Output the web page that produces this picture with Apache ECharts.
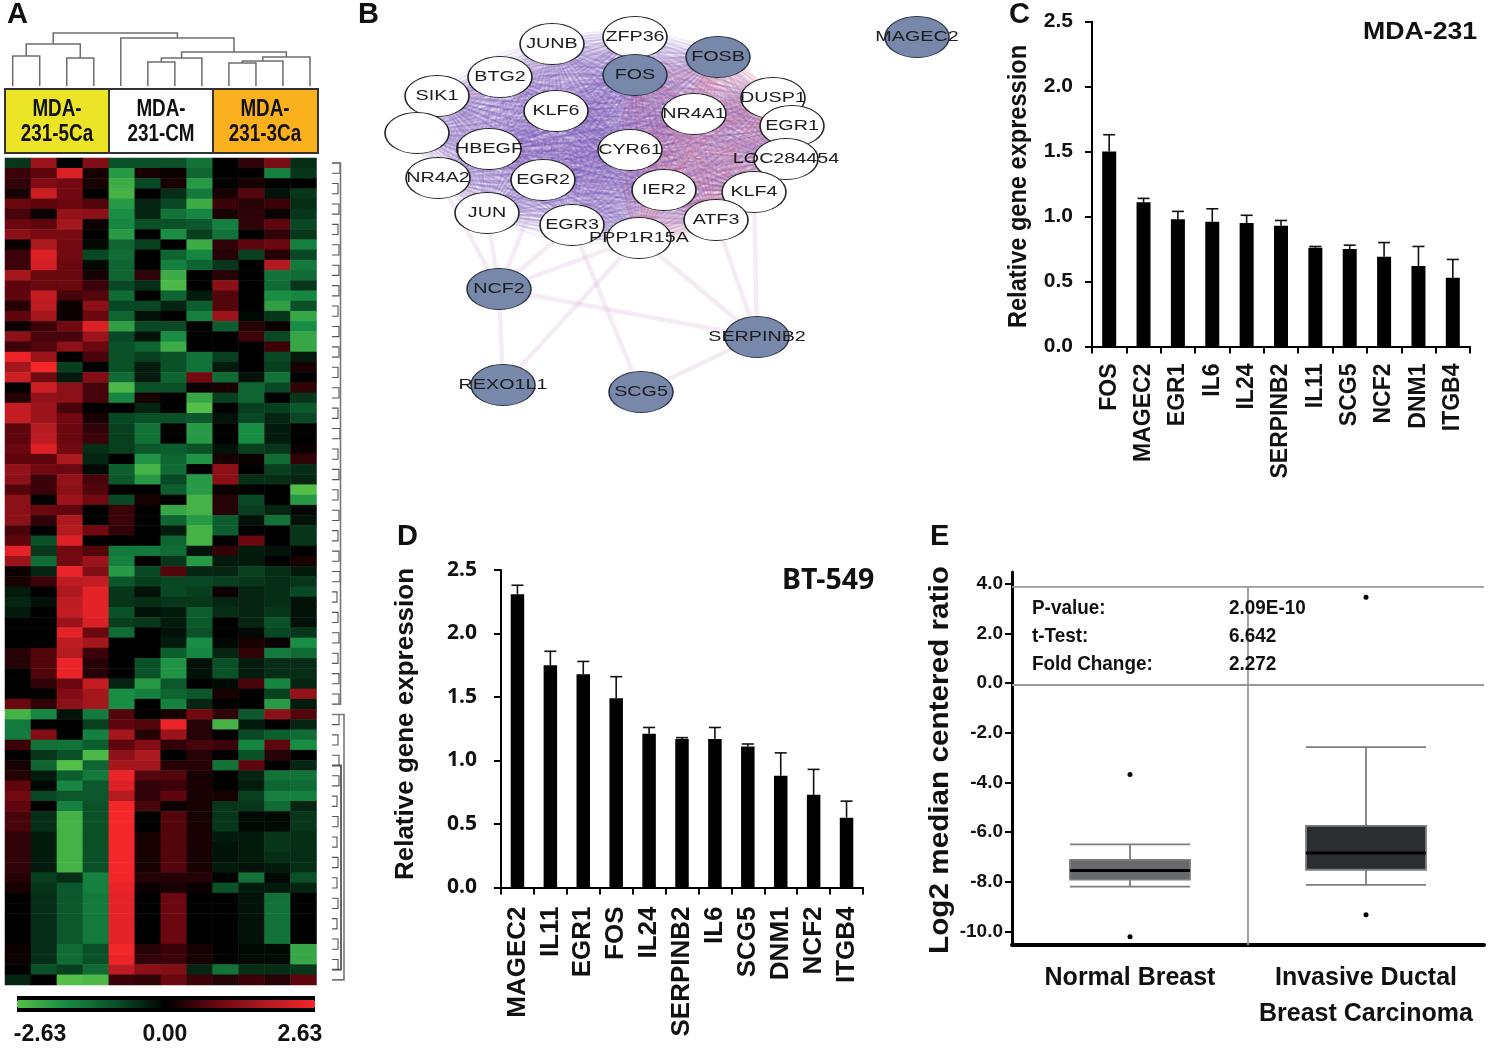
<!DOCTYPE html>
<html><head><meta charset="utf-8"><style>html,body{margin:0;padding:0;background:#fff}#c{width:1492px;height:1049px}</style>
<script src="https://cdn.jsdelivr.net/npm/echarts@6/dist/echarts.min.js"></script></head><body><div id="c"></div>
<script>
// ---------- Panel A: heat map (rows top to bottom, 12 samples) ----------
const heatRows = [
[-0.6,1.5,0,1.2,-0.9,-0.9,-0.9,-1.4,0,0.4,1.1,-0.5],
[0.5,0.8,2.3,0.2,-2.0,0.2,0.1,-1.2,0,0,-1.6,-0.6],
[0.4,1.2,1.0,0.2,-2.3,-0.8,0.2,-2.0,0,0.2,0,0],
[0.2,2.1,1.0,0,-2.4,0,-0.5,-1.5,0.2,0.7,-0.2,-0.6],
[0.9,0.8,0.9,0.7,-2.0,-0.4,-0.8,-2.3,0.5,0.3,0.5,-0.5],
[0.6,0.1,1.4,1.3,-1.8,-0.4,-1.4,-1.7,0.2,0.4,0.1,-0.6],
[0.9,0.8,1.6,0.1,-1.7,-0.9,-0.9,-1.0,-1.6,0.4,0.8,-0.8],
[1.3,1.1,1.1,0,-2.0,0,-1.8,-0.7,-1.4,0,0.4,-0.6],
[0.1,1.7,1.0,-0.1,-1.2,-0.7,0,-2.3,0.4,0.8,0.9,-1.6],
[0.5,2.3,1.0,-0.8,-1.3,0,-1.2,-1.7,0.3,-0.7,0.3,-0.8],
[0.5,2.2,0.9,-0.1,-1.2,0,-1.6,-1.2,-0.6,0,1.8,-1.5],
[1.6,0.9,0.9,0.2,-1.2,0.4,-2.3,0,0.3,0,-1.4,-1.3],
[0.8,0.9,0.9,0.5,-0.8,-0.5,-2.5,0,1.3,0,-1.3,-0.6],
[0.8,2.0,0.6,0.7,-1.3,0,-1.2,-0.3,0.7,0,-1.8,-1.7],
[0.3,1.9,0.1,1.3,-0.8,-0.8,-0.4,-1.1,0.7,0,-2.1,-0.9],
[0.8,1.6,0.1,0.9,-1.2,-0.2,0,-1.6,1.5,-0.1,-0.6,-2.2],
[0.1,0.5,1.0,2.3,-2.1,-0.8,-0.8,0,-1.1,0.3,0.1,-1.8],
[1.3,0.6,0.6,1.5,-0.8,-0.2,-1.8,0,0,0.5,-0.8,-2.2],
[0.5,0.7,1.3,0.9,-0.9,-1.2,-2.3,0,0,0,0.5,-2.2],
[2.5,1.5,0,0.6,-0.9,-0.7,-0.9,-1.4,-0.7,0,-0.8,-0.3],
[1.6,2.6,-0.7,0,-0.9,-0.3,-0.9,-1.4,-0.3,0,-0.7,0.2],
[2.1,1.0,-0.3,1.2,-1.3,-0.3,-1.2,1.0,-1.3,-0.2,-1.4,0],
[0,2.1,1.3,0.6,-2.5,-0.9,-0.9,0.1,0.2,-1.2,-0.8,0.4],
[0.3,1.4,1.3,0.6,-1.7,0.2,0,-2.2,-0.7,-1.2,0,-0.6],
[2.0,1.5,0.6,0,0,-0.4,0,-2.6,0,-0.7,-0.7,-1.0],
[2.0,1.5,1.0,0.2,-0.8,-0.9,-0.9,-1.0,-0.2,-0.8,-0.4,-0.8],
[0.8,1.8,0.9,0.4,-0.7,-1.4,0,-2.0,0,-1.8,-0.3,0],
[0.8,1.9,0.9,0.5,-0.7,-1.4,0,-2.0,0,-1.8,-0.3,0],
[0.9,2.3,1.0,-0.5,-0.7,-1.0,-1.1,-0.9,-0.2,-0.7,-0.6,0.1],
[0.8,0.8,1.7,-0.4,0,-1.9,-1.2,-1.9,0.2,0.1,-1.3,0.4],
[1.4,1.0,0.9,-0.1,-1.1,-2.4,-1.3,0,1.3,0,-0.7,-0.5],
[1.3,0.5,1.4,0.6,-1.0,-2.0,-0.8,-2.0,1.3,-0.5,-0.5,-0.4],
[0.7,0.5,1.3,0.7,0,0,-1.1,-2.0,0.1,0,0,-2.6],
[1.3,0,1.5,1.0,-0.8,0.2,0,-2.4,0.3,-0.8,0,-2.0],
[1.3,0.9,0.8,0,0.5,0,-2.2,-2.4,0.3,-0.7,-0.4,-0.1],
[1.3,0.4,1.7,0,0.5,0,-1.2,-2.0,-1.1,-0.2,-1.4,-0.2],
[0.6,0,1.8,1.0,0.4,0,-0.3,-2.4,-1.1,0,0,-0.6],
[0.8,-0.9,2.3,0,0,0,-1.2,-2.4,0,0.9,0,-0.6],
[2.4,-0.6,1.0,0.7,-1.5,-1.5,-1.3,-0.2,0.4,-0.3,-0.2,0],
[1.5,-1.3,1.0,1.5,-1.6,0,-0.6,-2.0,-0.3,-0.3,0,0.2],
[0.1,-0.4,2.5,1.2,-2.0,-0.8,0.7,-0.4,-0.4,-0.7,-0.5,-0.3],
[0.2,0.5,1.9,2.0,-1.0,-0.7,-0.8,-0.8,-0.7,-0.6,-0.5,-0.6],
[-0.3,0,1.7,2.4,-0.6,-0.2,-0.8,-0.7,0.1,-0.4,-0.5,-0.8],
[-0.4,-0.2,1.9,2.4,-0.6,-0.5,-0.6,-0.6,-0.4,-0.4,-0.5,-0.2],
[-0.3,0,2.0,2.4,-0.9,-0.2,-0.3,-1.1,-0.5,-0.4,-0.6,-0.2],
[0,0,1.5,2.3,-0.7,-0.6,-0.3,-1.0,0,-0.4,-0.9,-0.2],
[0,0,2.4,0.9,-1.3,0,-0.2,-0.9,0,-0.1,-0.8,-0.6],
[0,0,1.9,1.6,0,0,-0.3,-1.8,-0.1,0.2,0.1,-1.8],
[0.3,0.7,1.8,0.5,0,0,-1.1,-1.7,-0.4,0.4,-1.5,-1.3],
[0.3,0.7,2.5,0.3,0,-0.9,-1.9,-0.2,-0.9,-0.3,-0.5,-0.5],
[0,0.7,2.5,0.3,0,-0.9,-1.9,-0.2,-0.9,-0.3,-0.5,-0.5],
[0,0.4,0.9,2.0,-0.4,-2.0,-1.0,0,-0.1,0.6,-1.7,-0.4],
[0,0,1.2,1.6,-1.8,-1.6,-1.2,-1.0,0.2,0,-0.7,1.4],
[0.9,0.4,1.3,1.6,-1.8,0,-1.6,-0.4,0,0,-2.0,-0.3],
[-2.4,-1.7,-0.2,-1.5,0.7,0,0.2,1.0,0.4,-1.0,1.3,0.7],
[-1.5,0,0,-0.7,0.8,0.7,2.5,0.3,-2.4,-0.3,0,-0.4],
[-1.5,1.2,0,-1.6,1.6,0.3,1.5,0.3,0,-0.8,-1.1,-1.3],
[0.5,-1.4,-1.4,-1.1,0.8,1.2,0.4,0.6,0.5,-1.7,0.8,-1.8],
[0,-0.6,-0.9,-2.5,1.3,1.7,0,0.3,0,-0.9,0.3,0],
[0.2,-1.2,-2.6,-1.2,1.6,1.6,0.3,0.3,-1.4,0.8,0,-0.4],
[0.3,-0.3,-1.1,-1.5,2.5,0.7,0.7,0.2,0,-0.4,-1.4,-1.4],
[0.8,-0.1,-1.7,-1.0,2.3,0.4,0.5,0.2,0,-0.3,-1.2,-1.3],
[1.0,-0.8,-1.0,-1.0,1.8,0.4,0.8,0.2,0.2,-0.7,-1.6,-1.6],
[0.8,0,-1.6,-0.9,2.6,0.6,0.1,0.2,-0.6,-0.6,-1.3,-0.4],
[0.6,-0.5,-2.4,-0.9,2.6,0,0.7,0.2,-0.6,-0.1,-0.1,-0.6],
[0.6,-0.5,-2.4,-0.9,2.6,0,0.7,0.2,-0.6,-0.1,-0.1,-0.6],
[0.4,-0.3,-2.4,-0.9,2.6,0.2,0.7,0.2,-0.3,-0.3,-0.6,-0.5],
[0.4,-0.3,-2.4,-0.9,2.6,0.2,0.7,0.2,-0.2,-0.3,-0.6,-0.5],
[0.4,-0.3,-2.4,-0.9,2.6,0.2,0.7,0.2,-0.2,-0.3,-0.5,-0.5],
[0.4,-0.3,-2.4,-0.9,2.6,0.2,0.7,0.2,-0.3,-0.2,-0.3,-0.5],
[0.3,-0.7,-0.5,-1.6,2.6,0.3,0.3,0.3,0,-1.4,-0.1,-0.9],
[0.2,-0.6,-1.0,-1.6,2.5,0.1,0.2,0.1,-0.9,-0.3,-0.3,-0.4],
[0,-0.5,-1.0,-1.5,2.4,0,0.9,0,0,-0.2,-1.4,0],
[0,-0.5,-1.0,-1.5,2.4,0,0.9,0,0,-0.2,-1.4,0],
[0,-0.5,-1.0,-1.5,2.4,0,0.9,0,0,-0.2,-1.4,0],
[0,-0.5,-1.0,-1.5,2.4,0,0.9,0,0,-0.2,-1.4,0],
[0,-0.5,-1.0,-1.5,2.4,0,0.9,0,0,-0.2,-1.4,0],
[0.1,-0.5,-1.3,-0.9,2.6,0.3,0.5,0.2,0,-0.1,-0.1,-2.2],
[0.1,-0.5,-1.3,-0.9,2.5,0.4,0.5,0.2,0,-0.1,-0.1,-2.2],
[0,-0.9,-0.7,-1.3,1.9,1.3,1.2,-0.4,-1.4,-0.5,-0.5,-0.6],
[-0.4,0,-2.6,-2.5,0.5,0.4,0.9,0.5,0.3,0.5,0.3,0.8]
];
const heatScale = ['#55c048','#178a44','#0a4f27','#000000','#68060f','#b01a20','#f5262a'];

// sample dendrogram: each merge joins children A and B (index<12 = leaf) at height H
const mergeA = [0,2,12,5,15,8,17,18,16,4,14];
const mergeB = [1,3,13,6,7,9,10,11,19,20,21];
const mergeH = [30,28,42,24,28,23,25,29,34,48,53];

// gene dendrogram brackets [first row, last row, height]
const geneBrackets = [[0,1,8],[2,3,6],[4,5,7],[6,7,6],[8,9,7],[10,11,7],[12,13,7],[14,15,6],[16,17,7],[18,19,7],
[20,21,6],[22,23,7],[24,25,6],[26,27,8],[28,29,6],[30,31,7],[32,33,6],[34,35,7],[36,37,6],[38,39,7],
[40,41,8],[42,43,5],[44,45,6],[46,47,7],[48,49,6],[50,51,7],[52,53,7],
[54,55,7],[56,57,6],[58,59,7],[60,61,7],[62,63,5],[64,65,6],[66,67,5],[68,69,6],[70,71,5],[72,73,6],[74,75,5],[76,77,6],[78,79,6]];
const geneTrunks = [[0,53,8.5],[54,80,12]];
const geneTrunkInner = [[59,79,9]];

// ---------- Panel B: network ----------
const netNames = ['JUNB','ZFP36','BTG2','SIK1','','KLF6','NR4A1','DUSP1','EGR1','LOC284454','CYR61','HBEGF','NR4A2','EGR2','IER2','KLF4','JUN','EGR3','ATF3','PPP1R15A','FOS','FOSB','NCF2','SERPINB2','REXO1L1','SCG5','MAGEC2'];
const netX =     [552,635,500,437,417,556,694,773,792,786,630,489,438,543,664,754,487,572,716,639,635,718,499,757,503,641,917];
const netY =     [44,37,77,96,133,111,114,98,126,159,150,149,178,180,190,192,213,225,220,238,75,57,289,337,385,392,37];
const netBlue =  ['FOS','FOSB','NCF2','SERPINB2','REXO1L1','SCG5','MAGEC2'];
const coreSize = 22;  // first 22 names form the densely linked cluster
const netWarm = ['FOS','FOSB','NR4A1','DUSP1','CYR61','IER2','KLF4','ATF3','PPP1R15A','EGR1'];
const netOuter = [['NR4A2','NCF2'],['JUN','NCF2'],['EGR2','NCF2'],['EGR3','NCF2'],['PPP1R15A','NCF2'],['NCF2','SERPINB2'],['NCF2','REXO1L1'],['PPP1R15A','REXO1L1'],['EGR3','SCG5'],['SCG5','SERPINB2'],['PPP1R15A','SERPINB2'],['ATF3','SERPINB2'],['KLF4','SERPINB2']];
const netArcs = [['ZFP36','FOSB',-0.7],['FOSB','DUSP1',-0.35],['FOSB','EGR1',-0.4],['JUNB','SIK1',0.3],['NR4A2','JUN',0.3]];
const netBends = [0,0.07,-0.07,0.14,-0.14,0.2,-0.2];

// ---------- Panels C and D: bars ----------
const genesC = ['FOS','MAGEC2','EGR1','IL6','IL24','SERPINB2','IL11','SCG5','NCF2','DNM1','ITGB4'];
const meansC = [1.50,1.11,0.98,0.96,0.95,0.93,0.76,0.75,0.69,0.62,0.53];
const uppersC = [1.63,1.14,1.04,1.06,1.01,0.97,0.77,0.78,0.80,0.77,0.67];
const genesD = ['MAGEC2','IL11','EGR1','FOS','IL24','SERPINB2','IL6','SCG5','DNM1','NCF2','ITGB4'];
const meansD = [2.31,1.75,1.68,1.49,1.21,1.17,1.17,1.11,0.88,0.73,0.55];
const uppersD = [2.38,1.86,1.78,1.66,1.26,1.18,1.26,1.13,1.06,0.93,0.68];

// ---------- Panel E: box plot ----------
const boxGroups = ['Normal Breast','Invasive Ductal\nBreast Carcinoma'];
const boxStats = [[-8.2,-7.92,-7.55,-7.12,-6.5],[-8.13,-7.52,-6.85,-5.75,-2.58]];
const boxFill = ['#666869','#2b2e30'];
const boxOutliers = [[0,-3.68],[0,-10.22],[1,3.45],[1,-9.33]];
const boxTicks = [-10,-8,-6,-4,-2,0,2,4];
const boxGuides = [[0,3.87,2,3.87],[0,-0.08,2,-0.08],[1,3.87,1,-10.55]];
const statLabels = ['P-value:','t-Test:','Fold Change:'];
const statValues = ['2.09E-10','6.642','2.272'];

// ---------- helpers ----------
const SANS='"Liberation Sans",Arial,sans-serif', NOTO='"Noto Sans",sans-serif';
const heatData=[]; heatRows.forEach((r,y)=>r.forEach((v,x)=>heatData.push([x,y,v])));
const mergeX={}; const mergeHt={}; for(let i=0;i<12;i++){mergeX[i]=i;mergeHt[i]=0;}
const dendro=mergeA.map((a,i)=>{const b=mergeB[i],h=mergeH[i];const d=[mergeX[a],mergeHt[a],mergeX[b],mergeHt[b],h];mergeX[12+i]=(mergeX[a]+mergeX[b])/2;mergeHt[12+i]=h;return d;});
const idx=n=>netNames.indexOf(n);
const netNodes=netNames.map((n,i)=>{const blue=netBlue.includes(n);return {name:n||' ',value:[netX[i],netY[i]],itemStyle:{color:blue?'#7788aa':'#fff',borderColor:blue?'#2a3242':'#222',borderWidth:1.3}};});
const netLinks=[];
netBends.forEach(cv=>{for(let i=0;i<coreSize;i++)for(let j=i+1;j<coreSize;j++){
  const warm=netWarm.includes(netNames[i])&&netWarm.includes(netNames[j]);
  netLinks.push({source:i,target:j,lineStyle:{color:warm?'rgba(214,90,120,0.24)':'rgba(112,70,172,0.2)',width:warm?2:1.7,curveness:cv}});
}});
netOuter.forEach(p=>netLinks.push({source:idx(p[0]),target:idx(p[1]),lineStyle:{color:'rgba(196,150,204,0.38)',width:4.5,curveness:0}}));
netArcs.forEach(p=>netLinks.push({source:idx(p[0]),target:idx(p[1]),lineStyle:{color:'rgba(232,170,190,0.6)',width:3,curveness:p[2]}}));

function errSeries(gridIdx,upper,mean){return {type:'custom',xAxisIndex:gridIdx,yAxisIndex:gridIdx,z:1,
  data:mean.map((m,i)=>[i,m,upper[i]]),encode:{x:0,y:[1,2]},
  renderItem:(p,api)=>{const a=api.coord([api.value(0),api.value(1)]),b=api.coord([api.value(0),api.value(2)]);
    const st={stroke:'#111',lineWidth:1.6};return {type:'group',children:[
    {type:'line',shape:{x1:a[0],y1:a[1],x2:b[0],y2:b[1]},style:st},
    {type:'line',shape:{x1:b[0]-6,y1:b[1],x2:b[0]+6,y2:b[1]},style:st}]};}};}
const seg=(color,w)=>(p,api)=>{const a=api.coord([api.value(0),api.value(1)]),b=api.coord([api.value(2),api.value(3)]);
  return {type:'line',shape:{x1:a[0],y1:a[1],x2:b[0],y2:b[1]},style:{stroke:color,lineWidth:w}};};
const geneItem=(color,w)=>(p,api)=>{const a=api.value(0),b=api.value(1),h=api.value(2);
  const pts=[[0,a],[h,a],[h,b],[0,b]].map(q=>api.coord(q));
  return {type:'polyline',shape:{points:pts},style:{stroke:color,lineWidth:w,fill:null}};};
const txt=(text,x,y,font,extra,sx)=>({type:'text',silent:true,z:50,x,y,scaleX:sx||1,style:Object.assign({text,font,fill:'#111',textAlign:'left',textVerticalAlign:'middle'},extra||{})});
const rotTxt=(text,x,y,font,sx)=>({type:'text',silent:true,z:50,x,y,rotation:Math.PI/2,scaleX:sx||1,style:{text,font,fill:'#111',textAlign:'center',textVerticalAlign:'middle'}});
const bandRect=(x,w,color)=>({type:'rect',silent:true,z:10,shape:{x,y:89,width:w,height:64},style:{fill:color,stroke:'#333',lineWidth:2}});
const barX=(cats,size,margin)=>({type:'category',data:cats,axisLine:{lineStyle:{color:'#000',width:2}},axisTick:{show:true,length:7,lineStyle:{color:'#000',width:2}},axisLabel:{interval:0,rotate:90,margin,color:'#111',fontFamily:SANS,fontWeight:'bold',fontSize:size}});
const barY=(font,size,margin)=>({type:'value',min:0,max:2.5,interval:0.5,axisLine:{show:true,lineStyle:{color:'#000',width:2}},axisTick:{show:true,length:7,lineStyle:{color:'#000',width:2}},splitLine:{show:false},axisLabel:{margin,color:'#111',fontFamily:font,fontWeight:'bold',fontSize:size,formatter:v=>v.toFixed(1)}});

const option={
 animation:false,backgroundColor:'#fff',
 grid:[
  {left:5,top:158,width:311.5,height:827},      // 0 heat
  {left:12.7,top:26,width:297.3,height:60},     // 1 sample tree
  {left:332,top:158,width:14,height:827},       // 2 gene tree
  {left:360,top:0,width:620,height:430},        // 3 network
  {left:1092,top:21.7,width:378,height:324.8},  // 4 C
  {left:501,top:570,width:362,height:317.5},    // 5 D
  {left:1012,top:572,width:472,height:373}      // 6 E
 ],
 xAxis:[
  {gridIndex:0,type:'category',data:heatRows[0].map((_,i)=>i),show:false},
  {gridIndex:1,type:'value',min:0,max:11,show:false},
  {gridIndex:2,type:'value',min:0,max:14,show:false},
  {gridIndex:3,type:'value',min:360,max:980,show:false},
  Object.assign({gridIndex:4},barX(genesC,23,17)),
  Object.assign({gridIndex:5},barX(genesD,26,19)),
  {gridIndex:6,type:'category',data:boxGroups,axisLine:{onZero:false,lineStyle:{color:'#000',width:4}},axisTick:{show:false},axisLabel:{interval:0,margin:15,lineHeight:36,color:'#111',fontFamily:SANS,fontWeight:'bold',fontSize:25,verticalAlign:'top'}},
  {gridIndex:6,type:'value',min:0,max:2,show:false}
 ],
 yAxis:[
  {gridIndex:0,type:'category',inverse:true,data:heatRows.map((_,i)=>i),show:false},
  {gridIndex:1,type:'value',min:0,max:60,show:false},
  {gridIndex:2,type:'value',min:-0.5,max:80.5,inverse:true,show:false},
  {gridIndex:3,type:'value',min:0,max:430,inverse:true,show:false},
  Object.assign({gridIndex:4},barY(SANS,21,19)),
  Object.assign({gridIndex:5},barY(NOTO,21,24)),
  {gridIndex:6,type:'value',min:-10.55,max:4.47,axisLine:{show:true,lineStyle:{color:'#000',width:3}},
   axisTick:{show:true,length:7,customValues:boxTicks,lineStyle:{color:'#000',width:2}},splitLine:{show:false},
   axisLabel:{customValues:boxTicks,margin:9,color:'#111',fontFamily:SANS,fontWeight:'bold',fontSize:19,formatter:v=>v.toFixed(1)}}
 ],
 visualMap:[{type:'continuous',seriesIndex:0,min:-2.63,max:2.63,orient:'horizontal',left:17,top:1000,itemWidth:8,itemHeight:298,padding:0,calculable:false,hoverLink:false,text:null,showLabel:false,inRange:{color:heatScale},textStyle:{color:'transparent',fontSize:1},zlevel:1}],
 series:[
  {type:'heatmap',xAxisIndex:0,yAxisIndex:0,data:heatData,itemStyle:{borderWidth:0},emphasis:{disabled:true}},
  {type:'custom',xAxisIndex:1,yAxisIndex:1,data:dendro,encode:{x:[0,2],y:[1,3,4]},
   renderItem:(p,api)=>{const xa=api.value(0),ha=api.value(1),xb=api.value(2),hb=api.value(3),h=api.value(4);
    return {type:'polyline',shape:{points:[[xa,ha],[xa,h],[xb,h],[xb,hb]].map(q=>api.coord(q))},style:{stroke:'#6d6d6d',lineWidth:1.5,fill:null}};}},
  {type:'custom',xAxisIndex:2,yAxisIndex:2,data:geneBrackets,encode:{x:2,y:[0,1]},renderItem:geneItem('#555',1.1)},
  {type:'custom',xAxisIndex:2,yAxisIndex:2,data:geneTrunks,encode:{x:2,y:[0,1]},renderItem:geneItem('#777',1.6)},
  {type:'custom',xAxisIndex:2,yAxisIndex:2,data:geneTrunkInner,encode:{x:2,y:[0,1]},renderItem:geneItem('#555',1.8)},
  {type:'graph',coordinateSystem:'cartesian2d',xAxisIndex:3,yAxisIndex:3,layout:'none',data:netNodes,links:netLinks,
   symbol:'circle',symbolSize:[64,41],edgeSymbol:['none','none'],emphasis:{disabled:true},label:{show:false}},
  {type:'custom',xAxisIndex:3,yAxisIndex:3,z:6,clip:false,silent:true,data:netNames.map((n,i)=>[netX[i],netY[i]]),encode:{x:0,y:1},
   renderItem:(p,api)=>{const c=api.coord([api.value(0),api.value(1)]);
    return {type:'text',x:c[0],y:c[1],scaleX:1.36,style:{text:netNames[p.dataIndex],font:'14.5px '+SANS,fill:'#1c1c1c',textAlign:'center',textVerticalAlign:'middle'}};}},
  {type:'bar',xAxisIndex:4,yAxisIndex:4,data:meansC,barWidth:14,itemStyle:{color:'#000'}},
  errSeries(4,uppersC,meansC),
  {type:'bar',xAxisIndex:5,yAxisIndex:5,data:meansD,barWidth:13.5,itemStyle:{color:'#000'}},
  errSeries(5,uppersD,meansD),
  {type:'custom',xAxisIndex:7,yAxisIndex:6,data:boxGuides,encode:{x:[0,2],y:[1,3]},z:1,renderItem:seg('#9a9a9a',1.8)},
  {type:'boxplot',xAxisIndex:6,yAxisIndex:6,boxWidth:[120,120],z:3,
   data:boxStats.map((s,i)=>({value:s,itemStyle:{color:boxFill[i],borderColor:'#7d7d7d',borderWidth:1.8}}))},
  {type:'scatter',xAxisIndex:6,yAxisIndex:6,z:4,symbol:'rect',symbolSize:[120,3],itemStyle:{color:'#000',opacity:1},
   data:boxStats.map((s,i)=>[i,s[2]])},
  {type:'scatter',xAxisIndex:6,yAxisIndex:6,z:4,symbolSize:5,itemStyle:{color:'#000',opacity:1},data:boxOutliers}
 ],
 graphic:[
  {type:'rect',silent:true,z:0,shape:{x:17,y:996,width:298,height:16},style:{fill:'#000'}},
  bandRect(5,104,'#ece527'),bandRect(109,104,'#ffffff'),bandRect(213,105,'#fbb01e'),
  txt('MDA-\n231-5Ca',57,122,'bold 23px '+SANS,{textAlign:'center',lineHeight:25},0.82),
  txt('MDA-\n231-CM',161,122,'bold 23px '+SANS,{textAlign:'center',lineHeight:25},0.82),
  txt('MDA-\n231-3Ca',265,122,'bold 23px '+SANS,{textAlign:'center',lineHeight:25},0.82),
  txt('-2.63',40,1035,'bold 23px '+SANS,{textAlign:'center'}),
  txt('0.00',165,1035,'bold 23px '+SANS,{textAlign:'center'}),
  txt('2.63',300,1035,'bold 23px '+SANS,{textAlign:'center'}),
  txt('A',7,15,'bold 29px '+SANS),txt('B',358,15,'bold 29px '+SANS),txt('C',1009,15,'bold 29px '+SANS),
  txt('D',397,537,'bold 29px '+SANS),txt('E',930,537,'bold 29px '+SANS),
  txt('MDA-231',1363,33,'bold 23px '+SANS,null,1.16),
  txt('BT-549',782,581,'bold 28.5px '+NOTO),
  rotTxt('Relative gene expression',1019,186.5,'bold 26px '+SANS,0.907),
  rotTxt('Relative gene expression',406,724,'bold 26px '+SANS),
  rotTxt('Log2 median centered ratio',941,760,'bold 27px '+SANS,1.1),
  ...statLabels.map((t,i)=>txt(t,1032,608+28*i,'bold 21px '+SANS,null,0.9)),
  ...statValues.map((t,i)=>txt(t,1229,608+28*i,'bold 21px '+SANS,null,0.9))
 ]
};
const chart=echarts.init(document.getElementById('c'),null,{renderer:'canvas',width:1492,height:1049});
chart.setOption(option);
</script></body></html>
